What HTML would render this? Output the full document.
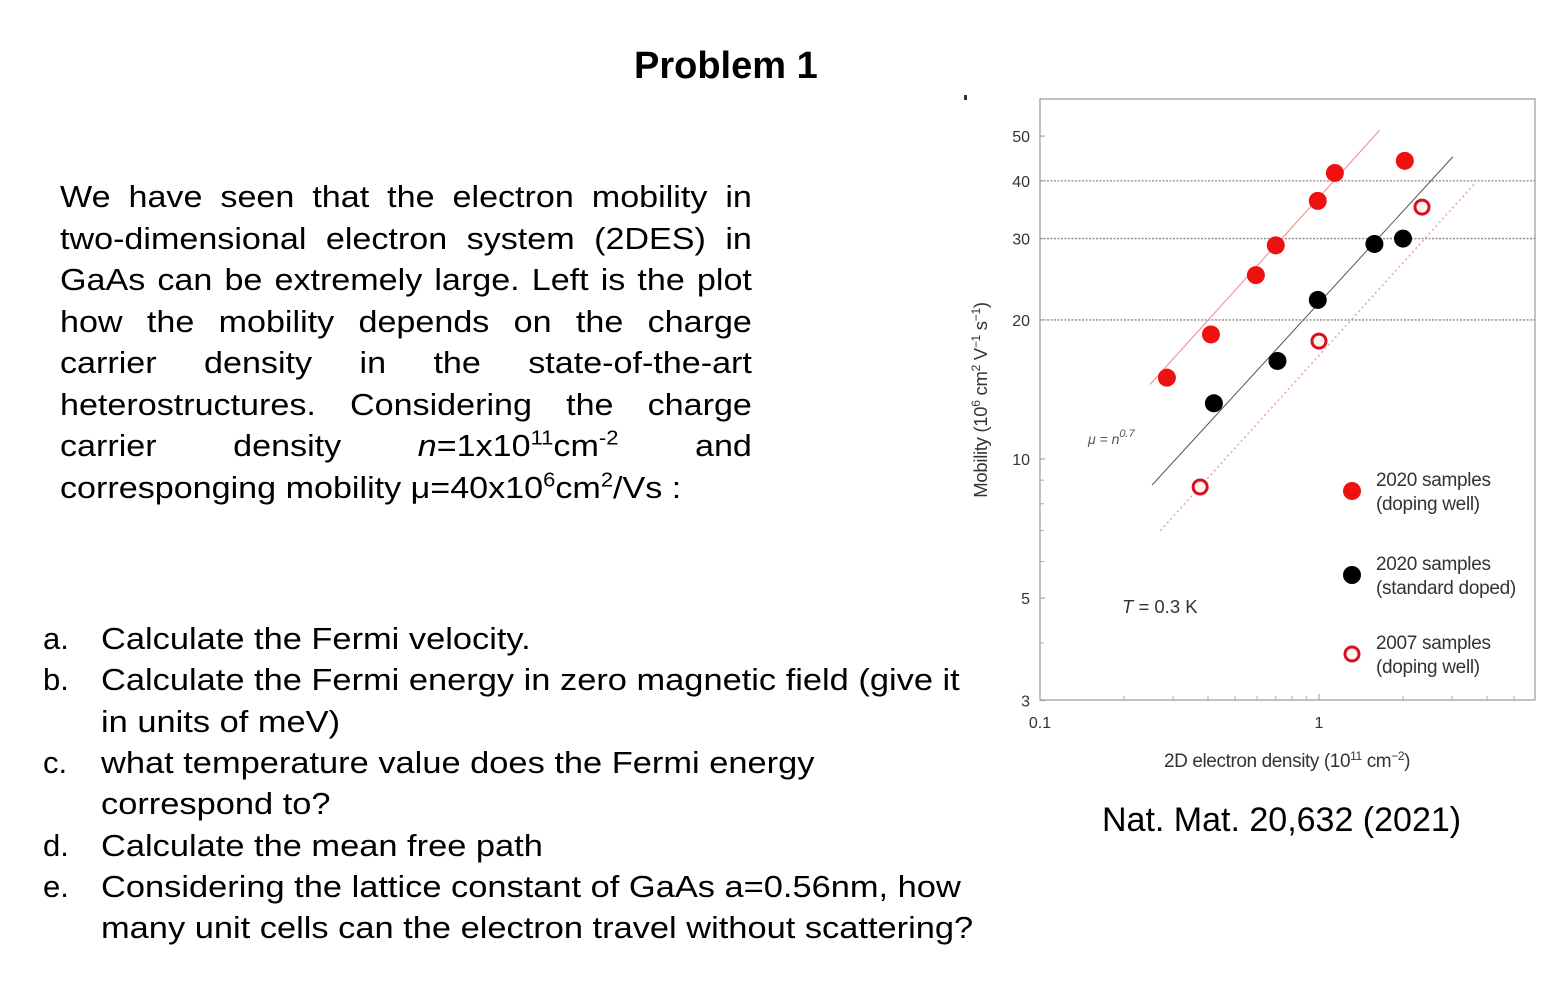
<!DOCTYPE html>
<html><head><meta charset="utf-8">
<style>
body{margin:0;width:1542px;height:1000px;background:#fff;position:relative;overflow:hidden;font-family:"Liberation Sans",sans-serif;color:#000}
.t{position:absolute;white-space:nowrap}
.pl{position:absolute;left:0;width:629px;font-size:31px;line-height:41.5px;text-align:justify;text-align-last:justify;white-space:nowrap;height:41.5px}
.pl.last{text-align-last:left}
sup{font-size:20px;line-height:0}
.li{position:absolute;font-size:31px;line-height:41.3px}
.li .k{position:absolute;left:0}
.li .v{position:absolute;left:58px;white-space:nowrap;transform:scaleX(1.11);transform-origin:left}
</style></head><body>
<div class="t" style="left:634px;top:45px;font-size:38px;font-weight:bold">Problem 1</div>
<div style="position:absolute;left:60px;top:176px;transform:scaleX(1.1);transform-origin:left top">
<div class="pl" style="top:0">We have seen that the electron mobility in</div>
<div class="pl" style="top:41.5px">two-dimensional electron system (2DES) in</div>
<div class="pl" style="top:83px">GaAs can be extremely large. Left is the plot</div>
<div class="pl" style="top:124.5px">how the mobility depends on the charge</div>
<div class="pl" style="top:166px">carrier density in the state-of-the-art</div>
<div class="pl" style="top:207.5px">heterostructures. Considering the charge</div>
<div class="pl" style="top:249px">carrier density <i>n</i>=1x10<sup>11</sup>cm<sup>-2</sup> and</div>
<div class="pl last" style="top:290.5px">corresponging mobility μ=40x10<sup>6</sup>cm<sup>2</sup>/Vs :</div>
</div>
<div class="li" style="left:43px;top:618px">
<div class="k" style="top:0">a.</div><div class="v" style="top:0">Calculate the Fermi velocity.</div>
<div class="k" style="top:41px">b.</div><div class="v" style="top:41px">Calculate the Fermi energy in zero magnetic field (give it</div>
<div class="v" style="top:83px">in units of meV)</div>
<div class="k" style="top:124px">c.</div><div class="v" style="top:124px">what temperature value does the Fermi energy</div>
<div class="v" style="top:165px">correspond to?</div>
<div class="k" style="top:207px">d.</div><div class="v" style="top:207px">Calculate the mean free path</div>
<div class="k" style="top:248px">e.</div><div class="v" style="top:248px">Considering the lattice constant of GaAs a=0.56nm, how</div>
<div class="v" style="top:289px">many unit cells can the electron travel without scattering?</div>
</div>
<div class="t" style="left:1102px;top:801px;font-size:34px">Nat. Mat. 20,632 (2021)</div>
<svg id="chart" width="1542" height="1000" style="position:absolute;left:0;top:0" font-family="Liberation Sans, sans-serif"></svg>
<script>
const redX=[0.285,0.41,0.594,0.70,0.99,1.14,2.03];
const redY=[15.0,18.6,25.0,29.0,36.2,41.6,44.2];
const blackX=[0.42,0.71,0.99,1.58,2.0];
const blackY=[13.2,16.3,22.1,29.2,30.0];
const openX=[0.375,1.0,2.34];
const openY=[8.7,18.0,35.1];
const fitRedX=[0.248,1.65], fitRedY=[14.5,51.5];
const fitBlackX=[0.252,3.02], fitBlackY=[8.78,45.1];
const fitOpenX=[0.27,3.62], fitOpenY=[7.0,39.5];
const yTicks=[3,5,10,20,30,40,50];
const yTickLabels=["3","5","10","20","30","40","50"];
const yMinor=[4,6,7,8,9];
const gridY=[20,30,40];
const xTicks=[0.1,1];
const xTickLabels=["0.1","1"];
const xMinor=[0.2,0.3,0.4,0.5,0.6,0.7,0.8,0.9,2,3,4,5];
const L=1040,R=1535,T=99,B=700;
const X=v=>L+(Math.log10(v)+1)*279;
const Y=v=>459-(Math.log10(v)-1)*462;
const svg=document.getElementById('chart');
const NS='http://www.w3.org/2000/svg';
function mk(tag,a,name){const e=document.createElementNS(NS,tag);for(const k in a)e.setAttribute(k,a[k]);


svg.appendChild(e);return e;}
mk('rect',{x:L,y:T,width:R-L,height:B-T,fill:'none',stroke:'#999','stroke-width':1.2},'plot-frame');
gridY.forEach(v=>mk('line',{x1:L,x2:R,y1:Y(v),y2:Y(v),stroke:'#888','stroke-width':1.3,'stroke-dasharray':'2,1.5'},'grid-line'));
yTicks.forEach((v,i)=>{mk('line',{x1:L,x2:L+5,y1:Y(v),y2:Y(v),stroke:'#999'},'y-tick');
const t=mk('text',{x:L-10,y:Y(v)+6,'text-anchor':'end','font-size':16,fill:'#333'},'y-tick-label');t.textContent=yTickLabels[i];});
yMinor.forEach(v=>mk('line',{x1:L,x2:L+4,y1:Y(v),y2:Y(v),stroke:'#aaa'},'y-minor-tick'));
xTicks.forEach((v,i)=>{mk('line',{x1:X(v),x2:X(v),y1:B,y2:B-6,stroke:'#999'},'x-tick');
const t=mk('text',{x:X(v),y:B+28,'text-anchor':'middle','font-size':16,fill:'#333'},'x-tick-label');t.textContent=xTickLabels[i];});
xMinor.forEach(v=>mk('line',{x1:X(v),x2:X(v),y1:B,y2:B-4,stroke:'#aaa'},'x-minor-tick'));
mk('line',{x1:X(fitRedX[0]),y1:Y(fitRedY[0]),x2:X(fitRedX[1]),y2:Y(fitRedY[1]),stroke:'#f0a0a0','stroke-width':1.3},'fit-line-red');
mk('line',{x1:X(fitBlackX[0]),y1:Y(fitBlackY[0]),x2:X(fitBlackX[1]),y2:Y(fitBlackY[1]),stroke:'#555','stroke-width':1},'fit-line-black');
mk('line',{x1:X(fitOpenX[0]),y1:Y(fitOpenY[0]),x2:X(fitOpenX[1]),y2:Y(fitOpenY[1]),stroke:'#e8a8b0','stroke-width':1.6,'stroke-dasharray':'2,3'},'fit-line-2007');
redX.forEach((v,i)=>mk('circle',{cx:X(v),cy:Y(redY[i]),r:9,fill:'#ee1111'},'point-2020-doping-well'));
blackX.forEach((v,i)=>mk('circle',{cx:X(v),cy:Y(blackY[i]),r:9,fill:'#000'},'point-2020-standard'));
openX.forEach((v,i)=>mk('circle',{cx:X(v),cy:Y(openY[i]),r:7,fill:'#fff4ee',stroke:'#d81020','stroke-width':3},'point-2007'));
mk('circle',{cx:1352,cy:491,r:9,fill:'#ee1111'},'legend-marker-red');
mk('circle',{cx:1352,cy:575,r:9,fill:'#000'},'legend-marker-black');
mk('circle',{cx:1352,cy:654,r:7,fill:'#fff4ee',stroke:'#d81020','stroke-width':3},'legend-marker-open');
[["2020 samples",486],["(doping well)",510],["2020 samples",570],["(standard doped)",594],["2007 samples",649],["(doping well)",673]].forEach(a=>{
const t=mk('text',{x:1376,y:a[1],'font-size':19,fill:'#333','letter-spacing':'-0.3'},'legend-label');t.textContent=a[0];});
let t=mk('text',{x:1122,y:613,'font-size':18.5,fill:'#333'},'temperature-label');t.innerHTML='<tspan font-style="italic">T</tspan> = 0.3 K';
t=mk('text',{x:1088,y:444,'font-size':14,fill:'#555','font-style':'italic'},'power-law-label');t.innerHTML='μ = n<tspan dy="-7" font-size="11">0.7</tspan>';
t=mk('text',{x:1287,y:767,'font-size':19,fill:'#333','text-anchor':'middle','letter-spacing':'-0.4'},'x-axis-title');t.innerHTML='2D electron density (10<tspan dy="-7" font-size="12">11</tspan><tspan dy="7"> cm</tspan><tspan dy="-7" font-size="12">−2</tspan><tspan dy="7">)</tspan>';
t=mk('text',{x:0,y:0,'font-size':18.5,fill:'#333','text-anchor':'middle','letter-spacing':'-0.3',transform:'translate(987,400) rotate(-90)'},'y-axis-title');t.innerHTML='Mobility (10<tspan dy="-7" font-size="12">6</tspan><tspan dy="7"> cm</tspan><tspan dy="-7" font-size="12">2</tspan><tspan dy="7"> V</tspan><tspan dy="-7" font-size="12">−1</tspan><tspan dy="7"> s</tspan><tspan dy="-7" font-size="12">−1</tspan><tspan dy="7">)</tspan>';
mk('rect',{x:964,y:95,width:3,height:5,fill:'#333'},'corner-mark');
</script>
</body></html>
